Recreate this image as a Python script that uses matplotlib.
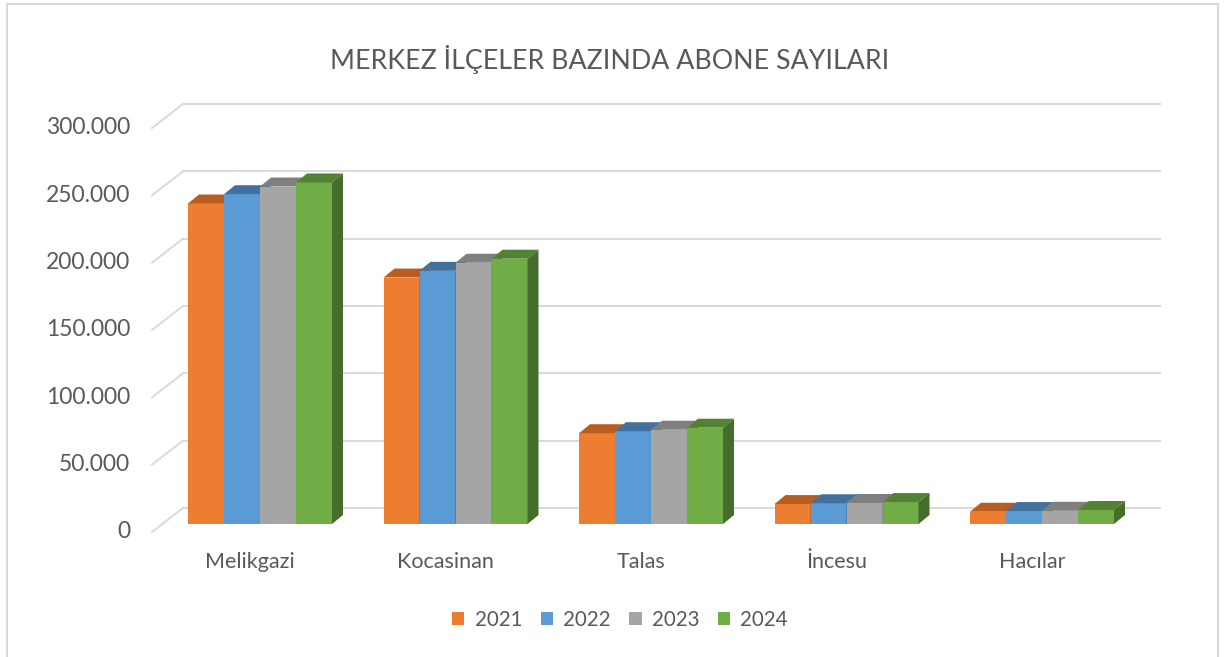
import matplotlib
matplotlib.use("Agg")
import matplotlib.pyplot as plt
from matplotlib.patches import Polygon, Rectangle, Patch

# abone sayilari (okunan degerler)
districts = ["Melikgazi", "Kocasinan", "Talas", "İncesu", "Hacılar"]
years = ["2021", "2022", "2023", "2024"]
subs_2021 = [238000, 183000, 67400, 14800, 9100]
subs_2022 = [244900, 188000, 68900, 15400, 9600]
subs_2023 = [250600, 194000, 70000, 15600, 9800]
subs_2024 = [253600, 197000, 71500, 16300, 10400]
yticks = [0, 50000, 100000, 150000, 200000, 250000, 300000]
ytick_labels = ["0", "50.000", "100.000", "150.000", "200.000", "250.000", "300.000"]

front = ["#ED7D31", "#5B9BD5", "#A5A5A5", "#70AD47"]
top = ["#B85D1F", "#41719C", "#7F7F7F", "#548235"]
side = ["#A8541C", "#3A6690", "#737373", "#466D2B"]
txt = "#595959"
grid = "#D9D9D9"

plt.rcParams['font.family'] = ['Lato', 'DejaVu Sans']

W, H = 1225, 657
fig = plt.figure(figsize=(W / 100, H / 100), dpi=100)

# axes: y=0 at bar front base, 300.000 at 404 px above
ax = fig.add_axes([152 / W, (H - 524) / H, (1160 - 152) / W, 404 / H])
step = 195.5
ax.set_xlim((152 - 260) / step, (1160 - 260) / step)
ax.set_ylim(0, 300000)
ax.axis("off")

ypp = 300000 / 404.0   # data per pixel (y)
xpp = 1 / step         # data per pixel (x)
bw = 36 * xpp
dx, dy = 11 * xpp, 9 * ypp

# back wall gridlines + slanted floor lines
ytr = ax.get_yaxis_transform()
x_back = 31 / 1008.0
for v in yticks:
    ax.plot([x_back, 1.0], [v + 16 * ypp] * 2, color=grid, lw=1.4,
            transform=ytr, clip_on=False, zorder=1)
    ax.plot([0, x_back], [v - 8 * ypp, v + 16 * ypp], color=grid, lw=1.4,
            transform=ytr, clip_on=False, zorder=1)

series = [subs_2021, subs_2022, subs_2023, subs_2024]
for j, vals in enumerate(series):
    for i, v in enumerate(vals):
        x0 = i + (j - 2) * bw
        ax.bar(x0, v, width=bw, align="edge", color=front[j], zorder=3 + j)
        ax.add_patch(Polygon([(x0, v), (x0 + bw, v), (x0 + bw + dx, v + dy),
                              (x0 + dx, v + dy)], closed=True, fc=top[j],
                             ec="none", zorder=3 + j))
        ax.add_patch(Polygon([(x0 + bw, 0), (x0 + bw + dx, dy),
                              (x0 + bw + dx, v + dy), (x0 + bw, v)],
                             closed=True, fc=side[j], ec="none", zorder=3 + j))

# category labels
for i, name in enumerate(districts):
    ax.text(i - 10 * xpp, -38 * ypp, name, ha="center", va="center",
            fontsize=15.5, color=txt, clip_on=False)

# y tick labels on front plane
for v, lab in zip(yticks, ytick_labels):
    ax.text((130 - 260) * xpp, v - 8 * ypp, lab, ha="right", va="center",
            fontsize=16.5, color=txt, clip_on=False)

fig.text(610 / W, (H - 60) / H, "MERKEZ İLÇELER BAZINDA ABONE SAYILARI",
         ha="center", va="center", fontsize=19.3, color=txt)

handles = [Patch(facecolor=c, edgecolor="none") for c in front]
fig.legend(handles, years, loc="center", bbox_to_anchor=(620 / W, (H - 620) / H),
           ncol=4, frameon=False, fontsize=14.8, handlelength=0.6,
           handleheight=0.6, handletextpad=0.5, columnspacing=0.9,
           labelcolor=txt)

fig.patches.append(Rectangle((7 / W, -0.1), (1218 - 7) / W, (H - 4) / H + 0.1,
                             transform=fig.transFigure, fill=False,
                             ec=grid, lw=1.5))

fig.savefig("out.png", dpi=100, facecolor="white")
